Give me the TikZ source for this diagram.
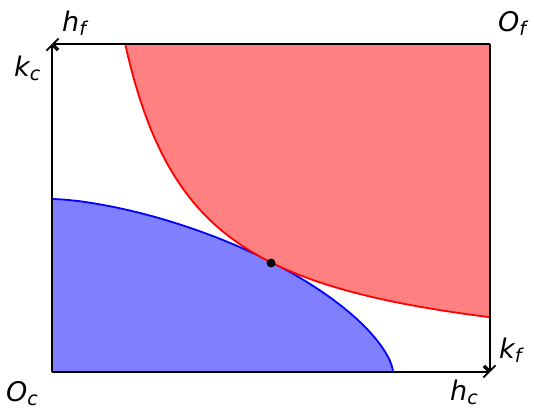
\documentclass[tikz,border=0pt]{standalone}
\usepackage{fontspec}
\setmainfont{DejaVu Sans}
\newfontfamily\dvo{DejaVu Sans Oblique}
\usetikzlibrary{arrows.meta}
\definecolor{redfill}{HTML}{FF8080}
\definecolor{bluefill}{HTML}{8080FF}
\newcommand{\axlab}[2]{{\dvo #1\raisebox{-4pt}{\fontsize{19}{19}\selectfont #2}}}
\tikzset{
  axis/.style={line width=2.2pt,-{Straight Barb[length=5.5pt,width=11pt,line width=1.7pt]}},
  lab/.style={font=\fontsize{27}{29}\selectfont, inner sep=0pt, anchor=base west},
  curve/.style={line width=1.8pt}
}
\begin{document}
\begin{tikzpicture}[x=1pt,y=1pt]
\useasboundingbox (0,0) rectangle (534,409);
\coordinate (Oc) at (52,37);
\coordinate (Kc) at (52,365);
\coordinate (Hc) at (490,37);
\coordinate (Of) at (490,365);
% blue region
\fill[bluefill] (52,37) -- (52,210)
  -- plot[domain=0.5:89.5,samples=120,variable=\t] ({52+341*(cos(\t))^(2/1.55)},{37+173*(sin(\t))^(2/1.55)})
  -- (393,37) -- cycle;
\draw[blue,curve] (52,210)
  -- plot[domain=89.5:0.5,samples=120,variable=\t] ({52+341*(cos(\t))^(2/1.55)},{37+173*(sin(\t))^(2/1.55)})
  -- (393,37);
% red region
\fill[redfill] plot[domain=73.2:438,samples=150,variable=\x] ({52+\x},{37+219*(109.6/\x)})
  -- (490,365) -- cycle;
\draw[red,curve] plot[domain=73.2:438,samples=150,variable=\x] ({52+\x},{37+219*(109.6/\x)});
% axes
\draw[axis] (Oc) -- (Kc);
\draw[axis] (Oc) -- (Hc);
\draw[axis] (Of) -- (Kc);
\draw[axis] (Of) -- (Hc);
% point
\fill[black] (271,146) circle (4.5);
% labels
\node[lab] (hf) at (62,377) {\axlab{h}{f}};
\node[lab] (kc) at (14,332) {\axlab{k}{c}};
\node[lab] (of) at (498,377) {\axlab{O}{f}};
\node[lab] (oc) at (6,8) {\axlab{O}{c}};
\node[lab] (kf) at (499,51) {\axlab{k}{f}};
\node[lab] (hc) at (450,9) {\axlab{h}{c}};
\end{tikzpicture}
\end{document}
